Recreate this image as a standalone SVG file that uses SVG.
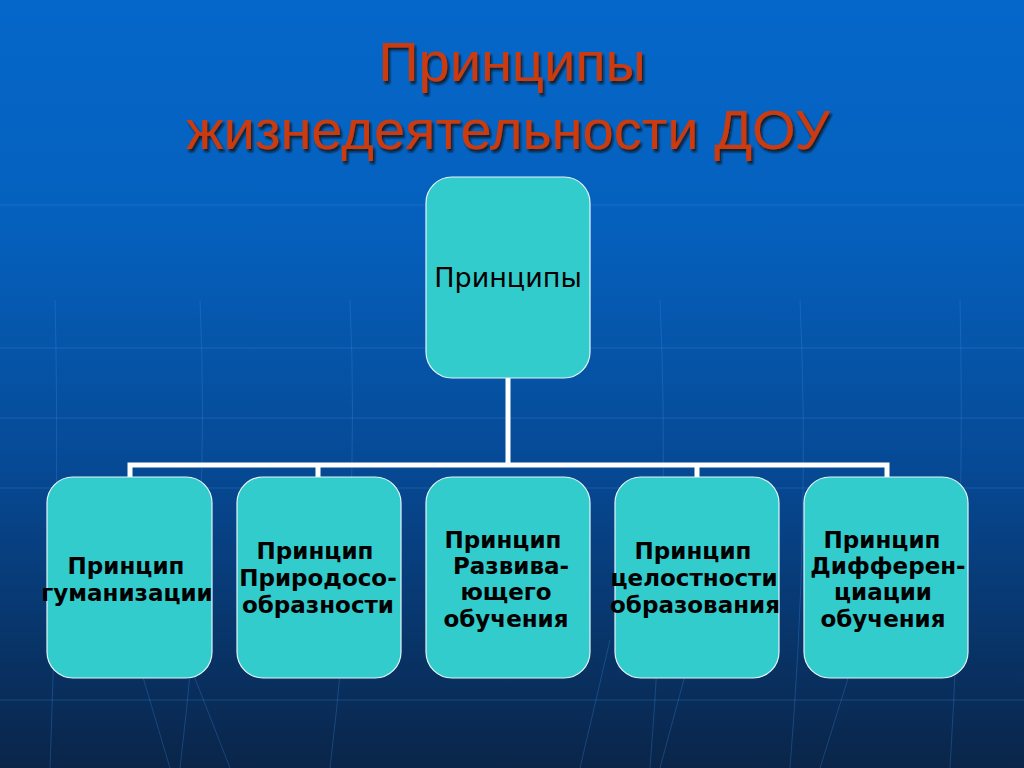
<svg xmlns="http://www.w3.org/2000/svg" width="1024" height="768" viewBox="0 0 1024 768">
<defs>
<linearGradient id="bg" x1="0" y1="0" x2="0" y2="1">
<stop offset="0" stop-color="#0567CA"/>
<stop offset="0.3" stop-color="#0560BC"/>
<stop offset="0.6" stop-color="#064A96"/>
<stop offset="1" stop-color="#0A2549"/>
</linearGradient>
<filter id="sh" x="-5%" y="-5%" width="110%" height="120%">
<feDropShadow dx="2" dy="3" stdDeviation="1" flood-color="#101010" flood-opacity="0.8"/>
</filter>
</defs>
<style>
.box{fill:#33CCCC;stroke:#E6F4F8;stroke-width:1.2}
.title{font-family:"Liberation Sans",Arial,sans-serif;font-size:56px;fill:#CC3A0C;text-anchor:middle}
.lbl{font-family:"DejaVu Sans",Verdana,sans-serif;font-weight:bold;font-size:23px;fill:#000;text-anchor:middle}
.top{font-family:"DejaVu Sans",Verdana,sans-serif;font-size:27px;fill:#000;text-anchor:middle}
.conn{fill:none;stroke:#FFFFFF;stroke-width:5;stroke-linecap:square}
.grid{fill:none;stroke:#3A8AE0;stroke-width:1;opacity:0.3}
</style>
<rect width="1024" height="768" fill="url(#bg)"/>
<g id="background-grid">
<path class="grid" d="M0 205 H1024 M0 348 H1024 M0 418 H1024 M0 488 H1024 M0 700 H1024"/>
<path class="grid" d="M55 300 Q60 500 50 768 M200 300 Q210 520 180 768 M350 300 Q360 520 330 768 M660 300 Q670 520 650 768 M800 300 Q810 520 790 768 M960 300 Q965 520 950 768"/>
<path class="grid" d="M120 600 L170 768 M180 640 L230 768 M610 640 L580 768 M700 620 L660 768 M860 640 L820 768"/>
</g>
<g id="title" filter="url(#sh)">
<text class="title" x="512" y="81">Принципы</text>
<text class="title" x="508" y="149">жизнедеятельности ДОУ</text>
</g>
<g id="connectors">
<path class="conn" d="M508 378 V465 M130 478 V465 H887 V478 M318 465 V478 M697 465 V478"/>
</g>
<g id="node-top">
<rect class="box" x="426" y="177" width="164" height="201" rx="26"/>
<text class="top" x="508" y="287">Принципы</text>
</g>
<g id="node-1">
<rect class="box" x="47" y="477" width="165" height="201" rx="26"/>
<text class="lbl" x="126" y="574">Принцип</text>
<text class="lbl" x="127" y="601">гуманизации</text>
</g>
<g id="node-2">
<rect class="box" x="237" y="477" width="164" height="201" rx="26"/>
<text class="lbl" x="315" y="559">Принцип</text>
<text class="lbl" x="318" y="586">Природосо-</text>
<text class="lbl" x="318" y="613">образности</text>
</g>
<g id="node-3">
<rect class="box" x="426" y="477" width="164" height="201" rx="26"/>
<text class="lbl" x="503" y="548">Принцип</text>
<text class="lbl" x="511" y="574">Развива-</text>
<text class="lbl" x="506" y="600">ющего</text>
<text class="lbl" x="506" y="627">обучения</text>
</g>
<g id="node-4">
<rect class="box" x="615" y="477" width="164" height="201" rx="26"/>
<text class="lbl" x="693" y="559">Принцип</text>
<text class="lbl" x="694" y="586">целостности</text>
<text class="lbl" x="695" y="613">образования</text>
</g>
<g id="node-5">
<rect class="box" x="804" y="477" width="164" height="201" rx="26"/>
<text class="lbl" x="882" y="548">Принцип</text>
<text class="lbl" x="888" y="574">Дифферен-</text>
<text class="lbl" x="883" y="600">циации</text>
<text class="lbl" x="883" y="627">обучения</text>
</g>
</svg>
